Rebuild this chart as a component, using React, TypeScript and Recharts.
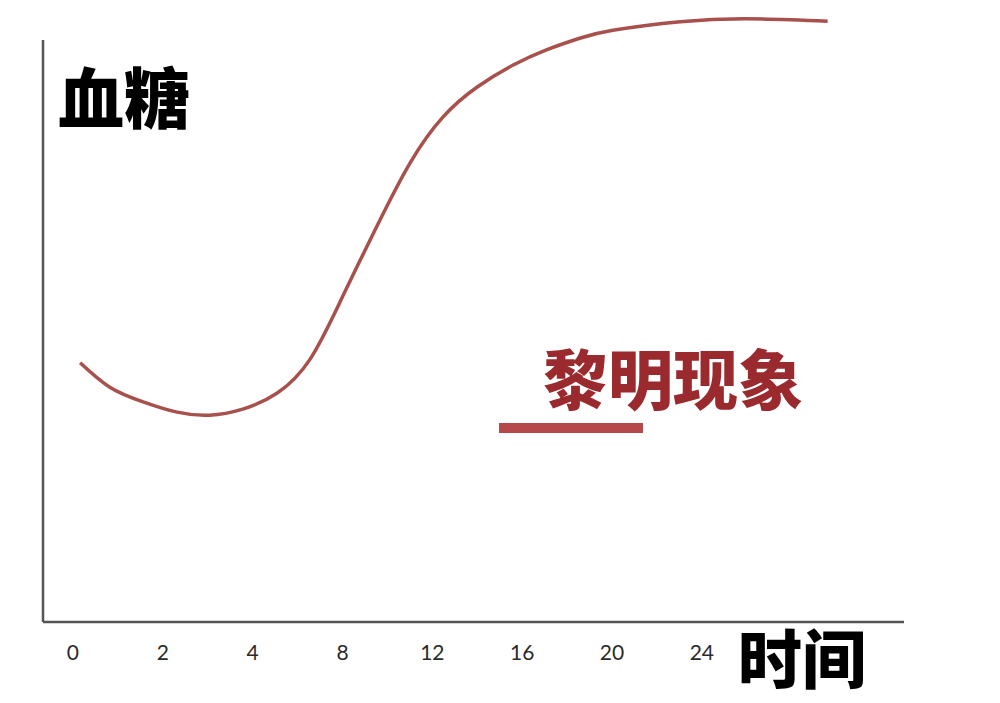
import { LineChart, Line, XAxis, YAxis, ReferenceLine } from 'recharts';

// x axis: evenly spaced slots, labelled with the hours printed under them
const tickSlots = [0, 1, 2, 3, 4, 5, 6, 7];
const tickLabels = ['0', '2', '4', '8', '12', '16', '20', '24'];

// blood glucose curve, x = position in tick slots, y = relative level (0-100)
const curveX = [0.08, 0.41, 0.78, 1.16, 1.52, 1.89, 2.27, 2.64, 3.0, 3.38, 3.75, 4.12, 4.5, 4.9, 5.27, 5.64, 6.01, 6.76, 7.5, 8.4];
const curveY = [42.5, 38.5, 36.1, 34.4, 33.9, 34.9, 37.5, 43.1, 53.3, 64.8, 75.2, 82.8, 87.7, 91.3, 93.8, 95.7, 97.0, 98.4, 98.9, 98.5];

const yAxisTop = 95.4;
const xMin = -1 / 3;
const xMax = 9.25;

const cjkFont = '"Noto Sans CJK SC", "Noto Sans CJK JP", sans-serif';
const axisColor = '#555555';

export default function App() {
    const data = curveX.map((x, i) => ({ x, y: curveY[i] }));

    return (
        <div style={{ position: 'relative', width: 1000, height: 703, margin: -8, background: '#fff' }}>
            <LineChart width={1000} height={703} data={data} margin={{ top: 12, right: 96, bottom: 51, left: 43 }}>
                <XAxis
                    type="number"
                    dataKey="x"
                    domain={[xMin, xMax]}
                    allowDataOverflow
                    ticks={tickSlots}
                    interval={0}
                    tickFormatter={(v: number) => tickLabels[v] ?? ''}
                    tickLine={false}
                    tickSize={0}
                    tickMargin={23}
                    height={30}
                    axisLine={{ stroke: axisColor, strokeWidth: 2.5 }}
                    tick={{ fill: '#2b2b2b', fontSize: 21, fontFamily: 'Lato, "Open Sans", sans-serif' }}
                />
                <YAxis hide type="number" domain={[0, 100]} allowDataOverflow />
                <ReferenceLine
                    segment={[{ x: xMin, y: 0 }, { x: xMin, y: yAxisTop }]}
                    stroke={axisColor}
                    strokeWidth={2.5}
                    ifOverflow="visible"
                />
                <Line
                    type="natural"
                    dataKey="y"
                    stroke="#a8504c"
                    strokeWidth={3.5}
                    dot={false}
                    activeDot={false}
                    isAnimationActive={false}
                />
            </LineChart>

            <div style={{ position: 'absolute', left: 58, top: 61, fontFamily: cjkFont, fontWeight: 900, fontSize: 66, lineHeight: 1, color: '#000' }}>
                血糖
            </div>
            <div style={{ position: 'absolute', left: 738, top: 623, fontFamily: cjkFont, fontWeight: 900, fontSize: 64, lineHeight: 1, color: '#000' }}>
                时间
            </div>
            <div style={{ position: 'absolute', left: 543, top: 344, fontFamily: cjkFont, fontWeight: 900, fontSize: 65, lineHeight: 1, color: '#9b2a2e' }}>
                黎明现象
            </div>
            <div style={{ position: 'absolute', left: 499, top: 423, width: 144, height: 10, background: '#b5484a' }} />
        </div>
    );
}
